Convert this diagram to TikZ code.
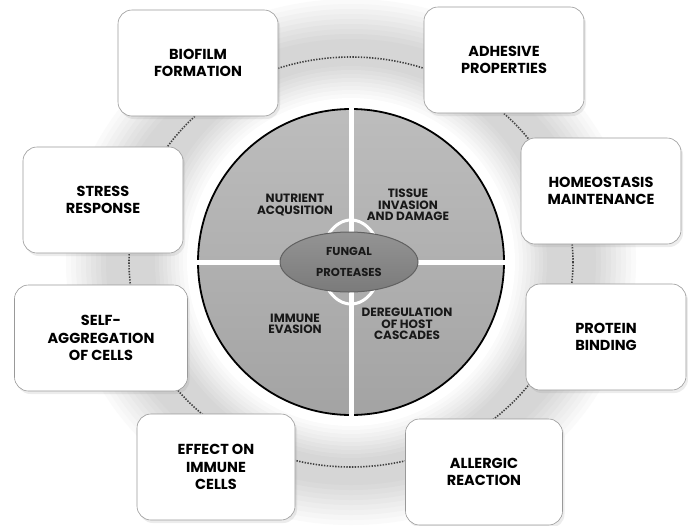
\documentclass[tikz,border=0pt]{standalone}
\usepackage{fontspec}
\setmainfont{Poppins}
\usetikzlibrary{shapes.geometric}
\usetikzlibrary{shadows}

\begin{document}
\begin{tikzpicture}[x=1pt, y=-1pt,
    rolebox/.style={draw=black!40, line width=0.6pt, fill=white, rounded corners=14pt,
      minimum width=160pt, minimum height=106pt, align=center, inner sep=2pt,
      font=\fontsize{14.5}{17.5}\selectfont\bfseries, text=black,
      drop shadow={shadow xshift=2pt, shadow yshift=-3pt, opacity=0.15}},
    quadtext/.style={align=center, font=\fontsize{12}{11.5}\selectfont\bfseries, text=black!90},
    ring/.style={black!75, line width=1.6pt, dash pattern=on 1.4pt off 1.4pt}]
  \useasboundingbox (0,0) rectangle (688,525);
  \coordinate (hub) at (351,262);

  % soft grey band round the ring
  \foreach \k [evaluate=\k as \g using 1.8*\k] in {0,...,9}
    \fill[black!\g] (hub) ellipse ({290-5*\k} and {268-5*\k});
  \foreach \k [evaluate=\k as \g using 16.2-1.8*\k] in {0,...,9}
    \fill[black!\g] (hub) circle ({200-4*\k});
  \draw[ring] (hub) ellipse (222 and 205);

  % the core disc
  \node[circle, draw, line width=1.8pt, minimum size=306pt, inner sep=0pt,
    top color=black!26, bottom color=black!36] (core) at (hub) {};
  \draw[white, line width=5pt] (core.north) -- (core.south);
  \draw[white, line width=5pt] (core.west) -- (core.east);
  \draw[white, line width=3pt] (hub) ellipse (30 and 42);
  \node[ellipse, draw=black!62, line width=1pt, minimum width=138pt, minimum height=60pt,
    top color=black!42, bottom color=black!52, align=center,
    font=\fontsize{11.5}{21}\selectfont\bfseries, text=black!90] (proteases) at (349,262)
    {FUNGAL\\PROTEASES};

  \node[quadtext] (nutrient) at (295,205) {NUTRIENT\\ACQUSITION};
  \node[quadtext] (tissue) at (408,205) {TISSUE\\INVASION\\AND DAMAGE};
  \node[quadtext] (evasion) at (295,324) {IMMUNE\\EVASION};
  \node[quadtext] (cascades) at (407,324) {DEREGULATION\\OF HOST\\CASCADES};

  % outer boxes
  \node[rolebox] (biofilm) at (198,63) {BIOFILM\\FORMATION};
  \node[rolebox] (adhesive) at (504,60) {ADHESIVE\\PROPERTIES};
  \node[rolebox] (homeostasis) at (601,191) {HOMEOSTASIS\\MAINTENANCE};
  \node[rolebox] (protein) at (606,337) {PROTEIN\\BINDING};
  \node[rolebox, minimum width=157pt] (allergic) at (484,472) {ALLERGIC\\REACTION};
  \node[rolebox, minimum width=158pt] (effect) at (216,467) {EFFECT ON\\IMMUNE\\CELLS};
  \node[rolebox, minimum width=173pt] (selfagg) at (101,338) {SELF-\\AGGREGATION\\OF CELLS};
  \node[rolebox] (stress) at (103,200) {STRESS\\RESPONSE};
\end{tikzpicture}
\end{document}
